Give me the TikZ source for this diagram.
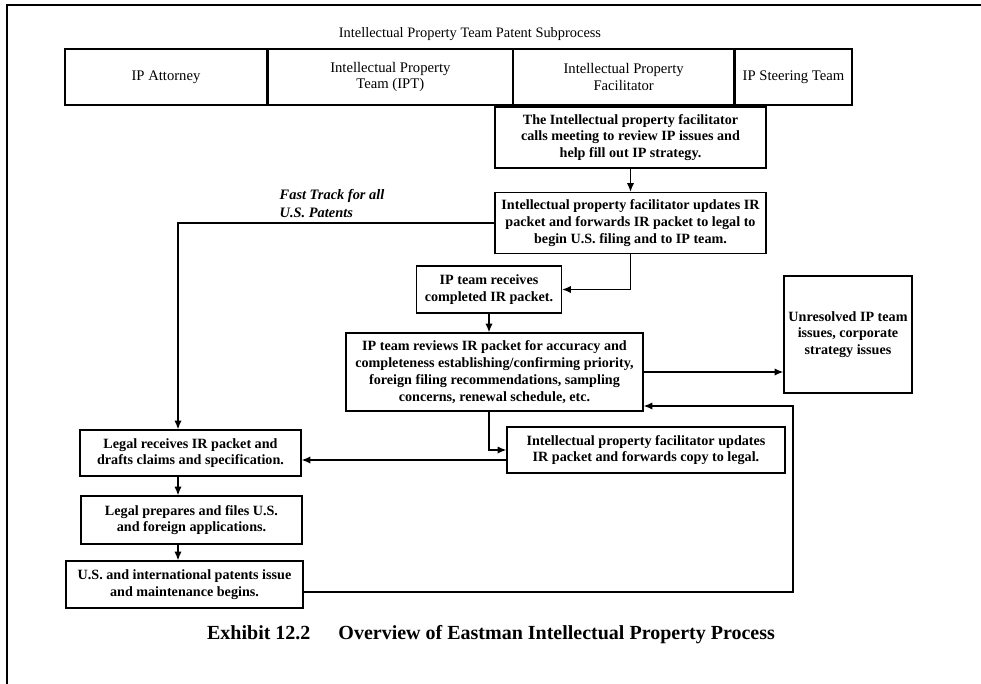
\documentclass[tikz,border=0pt]{standalone}
\usepackage{fontspec}
\setmainfont{Liberation Serif}
\usetikzlibrary{positioning,arrows.meta}

\begin{document}
\begin{tikzpicture}[x=0.75pt, y=-0.75pt, >={Latex[length=6.5pt,width=5.5pt]},
  every node/.style={font=\fontsize{10.6}{12.6}\selectfont\bfseries},
  stepbox/.style={rectangle, draw, line width=1pt, align=center, inner sep=2pt},
  lane/.style={rectangle, draw, line width=1pt, align=center, minimum height=42pt, inner sep=0pt, font=\fontsize{11}{12.5}\selectfont},
  flow/.style={->, line width=1pt}]
  \useasboundingbox (0,0) rectangle (981,684);
  % page frame
  \draw[line width=2.2pt] (7,684) -- (7,5) -- (981,5);

  \node[font=\fontsize{10.8}{12.5}\selectfont] (title) at (470,34) {Intellectual Property Team Patent Subprocess};
  % swim lane header
  \node[lane, minimum width=151.5pt] (attorney) at (166,77) {IP Attorney};
  \node[lane, minimum width=183pt, right=0pt of attorney] (ipt) {Intellectual Property\\Team (IPT)};
  \node[lane, minimum width=165pt, right=0pt of ipt] (facil) {Intellectual Property\\Facilitator};
  \node[lane, minimum width=87.75pt, right=0pt of facil] (steer) {IP Steering Team};

  % process steps
  \node[stepbox, minimum width=203.25pt, minimum height=45.75pt] (meeting) at (630.5,137.5) {The Intellectual property facilitator\\calls meeting to review IP issues and\\help fill out IP strategy.};
  \node[stepbox, minimum width=203.25pt, minimum height=45.75pt] (update) at (630.5,223) {Intellectual property facilitator updates IR\\packet and forwards IR packet to legal to\\begin U.S. filing and to IP team.};
  \node[stepbox, minimum width=108.75pt, minimum height=35.25pt] (receive) at (489,289.5) {IP team receives\\completed IR packet.};
  \node[stepbox, minimum width=222.75pt, minimum height=58.5pt] (review) at (494.5,372) {IP team reviews IR packet for accuracy and\\completeness establishing/confirming priority,\\foreign filing recommendations, sampling\\concerns, renewal schedule, etc.};
  \node[stepbox, minimum width=96pt, minimum height=87.75pt] (unresolved) at (848,334.5) {Unresolved IP team\\issues, corporate\\strategy issues};
  \node[stepbox, minimum width=208.5pt, minimum height=34.5pt] (copy) at (646,450) {Intellectual property facilitator updates\\IR packet and forwards copy to legal.};
  \node[stepbox, minimum width=165.75pt, minimum height=34.5pt] (drafts) at (190.5,453) {Legal receives IR packet and\\drafts claims and specification.};
  \node[stepbox, minimum width=165.75pt, minimum height=36pt] (files) at (191.5,520) {Legal prepares and\ files U.S.\\and foreign applications.};
  \node[stepbox, minimum width=177.75pt, minimum height=35.25pt] (issue) at (184.5,584.5) {U.S. and international patents issue\\and maintenance begins.};

  \node[font=\fontsize{10.8}{13.5}\selectfont\bfseries\itshape, align=left, anchor=west] (fasttrack) at (275,204) {Fast Track for all\\U.S. Patents};
  \node[font=\fontsize{15}{17}\selectfont\bfseries] (caption) at (491,635) {Exhibit 12.2\hspace{1.4em}Overview of Eastman Intellectual Property Process};

  \coordinate (ftdrop) at (178,0);
  \coordinate (loop) at (793,0);
  \coordinate (back) at ([yshift=-25.5pt]review.east);

  \draw[flow] (meeting) -- (update);
  \draw[flow] (update.south) |- (receive.east);
  \draw[flow] (receive.south) -- (receive.south |- review.north);
  \draw[flow] (review.east) -- (review.east -| unresolved.west);
  \draw[flow] (update.west) -| (ftdrop |- drafts.north);
  \draw[flow] (review.south -| receive.south) |- (copy.west);
  \draw[flow] ([yshift=-7.5pt]copy.west) -- ([yshift=-7.5pt]copy.west -| drafts.east);
  \draw[flow] (drafts.south -| ftdrop) -- (files.north -| ftdrop);
  \draw[flow] (files.south -| ftdrop) -- (issue.north -| ftdrop);
  \draw[flow] ([yshift=-5.5pt]issue.east) -| (back -| loop) -- (back);
\end{tikzpicture}
\end{document}
